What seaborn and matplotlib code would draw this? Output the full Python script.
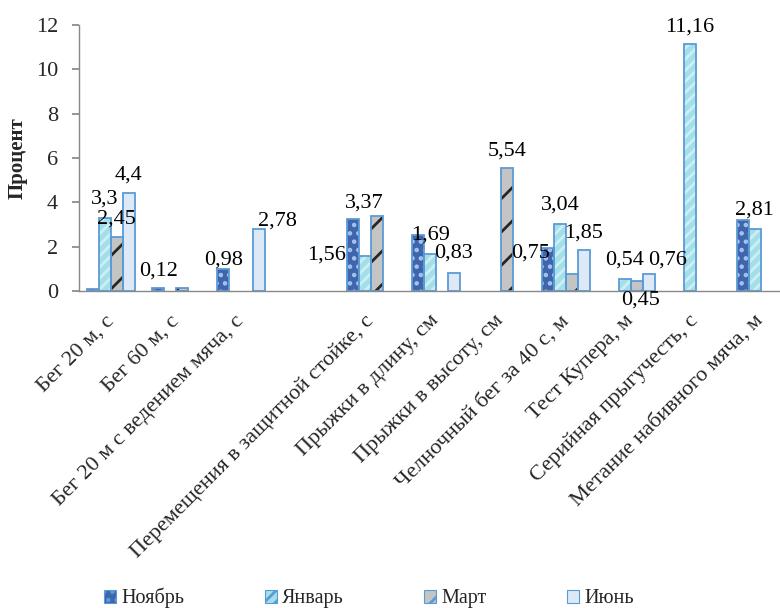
import numpy as np
import pandas as pd
import matplotlib
matplotlib.use("Agg")
import matplotlib.pyplot as plt
from matplotlib.patches import Rectangle, Patch
import seaborn as sns

nan = np.nan

# Test names (the empty slot keeps the gap between the running and agility groups)
categories = [
    "Бег 20 м, с",
    "Бег 60 м, с",
    "Бег 20 м с ведением мяча, с",
    "",
    "Перемещения в защитной стойке, с",
    "Прыжки в длину, см",
    "Прыжки в высоту, см",
    "Челночный бег за 40 с, м",
    "Тест Купера, м",
    "Серийная прыгучесть, с",
    "Метание набивного мяча, м",
]
months = ["Ноябрь", "Январь", "Март", "Июнь"]

# Percentage gains per month
nov = [0.10, 0.12, 0.98, nan, 3.23, 2.53, nan, 1.93, nan, nan, 3.22]
jan = [3.3, nan, nan, nan, 1.56, 1.69, nan, 3.04, 0.54, 11.16, 2.81]
mar = [2.45, 0.13, nan, nan, 3.37, nan, 5.54, 0.75, 0.45, nan, nan]
jun = [4.4, nan, 2.78, nan, nan, 0.83, nan, 1.85, 0.76, nan, nan]

# Which bars carry a value label, and where the label sits (pixel offset from bar top)
label_spots = [
    ("Январь", 0, -0.5, -19.3),
    ("Март", 0, -1.0, -17.7),
    ("Июнь", 0, -1.0, -18.4),
    ("Ноябрь", 1, 0.0, -17.3),
    ("Ноябрь", 2, 0.0, -9.0),
    ("Июнь", 2, 18.0, -8.0),
    ("Январь", 4, -39.0, -1.0),
    ("Март", 4, -12.5, -13.0),
    ("Январь", 5, 0.5, -18.5),
    ("Июнь", 5, -1.0, -20.0),
    ("Март", 6, 0.0, -17.0),
    ("Март", 7, -41.7, -21.0),
    ("Январь", 7, 0.0, -19.0),
    ("Июнь", 7, -0.7, -16.5),
    ("Январь", 8, 0.0, -19.0),
    ("Март", 8, 3.5, 19.5),
    ("Июнь", 8, 18.4, -14.0),
    ("Январь", 9, 0.0, -17.0),
    ("Январь", 10, 0.0, -18.7),
]

styles = {
    "Ноябрь": dict(face="#3f65ad", hatch="..", hcol="#a9c3ee"),
    "Январь": dict(face="#a3dfe9", hatch="///", hcol="#cdeff4"),
    "Март": dict(face="#c4c4c4", hatch="/", hcol="#262626"),
    "Июнь": dict(face="#dde9f7", hatch="", hcol="#dde9f7"),
}
outline = "#5b9bd5"

rows = []
for m, vals in zip(months, [nov, jan, mar, jun]):
    for c, v in zip(categories, vals):
        rows.append({"Тест": c, "Месяц": m, "Процент": v})
df = pd.DataFrame(rows).dropna()

sns.set_theme(style="white")
plt.rcParams["font.family"] = ["Liberation Serif", "DejaVu Serif"]
plt.rcParams["hatch.linewidth"] = 2.0

fig = plt.figure(figsize=(7.8, 6.08), dpi=100)
fig.patch.set_facecolor("white")
ax = fig.add_axes([79 / 780, 1 - 291 / 608, (793 - 79) / 780, (291 - 25) / 608])

sns.barplot(data=df, x="Тест", y="Процент", hue="Месяц",
            order=categories, hue_order=months, width=0.74,
            errorbar=None, legend=False, ax=ax)

bars_by_month = {}
for m, cont in zip(months, ax.containers):
    st = styles[m]
    lookup = {}
    for bar in cont:
        bar.set_facecolor(st["face"])
        bar.set_hatch(st["hatch"])
        bar.set_edgecolor(st["hcol"])
        bar.set_linewidth(0)
        ax.add_patch(Rectangle((bar.get_x(), bar.get_y()), bar.get_width(), bar.get_height(),
                               fill=False, edgecolor=outline, linewidth=1.3, zorder=bar.get_zorder() + 0.1))
        lookup[int(round(bar.get_x() + bar.get_width() / 2))] = bar
    bars_by_month[m] = lookup

for m, ci, dx, dy in label_spots:
    bar = bars_by_month[m][ci]
    h = bar.get_height()
    txt = f"{h:g}".replace(".", ",")
    ax.annotate(txt, xy=(bar.get_x() + bar.get_width() / 2, h),
                xytext=(dx * 0.72, -dy * 0.72), textcoords="offset points",
                ha="center", va="center", fontsize=16, color="black")

ax.set_xlim(-0.5, len(categories) - 0.5)
ax.set_ylim(0, 12)
ax.set_yticks(range(0, 13, 2))
ax.set_xticks(range(len(categories)))
ax.set_xticklabels(categories, rotation=45, ha="right", va="center",
                   rotation_mode="anchor", fontsize=16)
ax.tick_params(axis="y", length=5, color="#898989", pad=10, labelsize=16, left=True)
ax.tick_params(axis="x", length=0, pad=19.5)
ax.set_xlabel("")
ax.set_ylabel("Процент", fontsize=15, fontweight="bold", labelpad=6)
for side in ["top", "right"]:
    ax.spines[side].set_visible(False)
for side in ["left", "bottom"]:
    ax.spines[side].set_color("#898989")
    ax.spines[side].set_linewidth(1.0)

handles = [Patch(facecolor=styles[m]["face"], hatch=styles[m]["hatch"], edgecolor=outline,
                 linewidth=0.8, label=m) for m in months]
fig.legend(handles=handles, loc="center", bbox_to_anchor=(369 / 780, 1 - 598 / 608),
           ncol=4, frameon=False, fontsize=14.5, handlelength=0.6, handleheight=0.6,
           handletextpad=0.25, columnspacing=4.0)

fig.savefig("out.png", dpi=100, facecolor="white")
